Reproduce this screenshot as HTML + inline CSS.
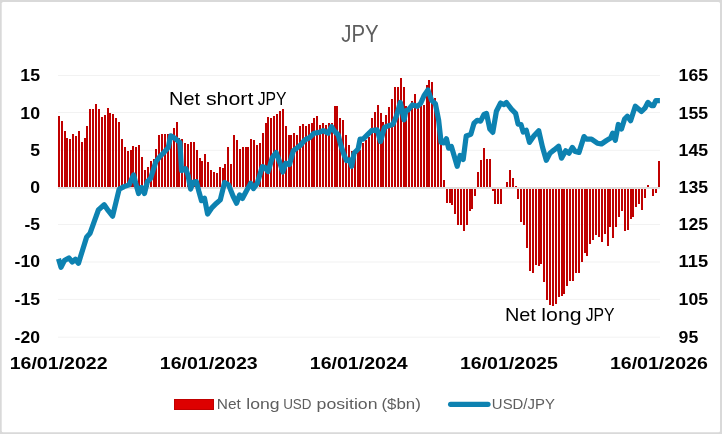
<!DOCTYPE html>
<html lang="en"><head><meta charset="utf-8"><title>JPY</title>
<style>html,body{margin:0;padding:0;background:#fff}body{width:722px;height:434px;overflow:hidden}</style></head>
<body>
<svg width="722" height="434" viewBox="0 0 722 434" style="display:block">
<rect x="0" y="0" width="722" height="434" fill="#d9d9d9"/>
<rect x="1.7" y="2" width="718.3" height="430.3" rx="1.5" fill="#fff"/>
<rect x="58" y="75.00" width="602" height="1" fill="#f2f2f2"/>
<rect x="58" y="112.00" width="602" height="1" fill="#f2f2f2"/>
<rect x="58" y="149.80" width="602" height="1" fill="#f2f2f2"/>
<rect x="58" y="224.00" width="602" height="1" fill="#f2f2f2"/>
<rect x="58" y="261.50" width="602" height="1" fill="#f2f2f2"/>
<rect x="58" y="298.90" width="602" height="1" fill="#f2f2f2"/>
<rect x="58" y="336.70" width="602" height="1" fill="#f2f2f2"/>
<g fill="#c00000" shape-rendering="crispEdges">
<rect x="58" y="116" width="2" height="71"/>
<rect x="61" y="121" width="2" height="66"/>
<rect x="64" y="131" width="2" height="56"/>
<rect x="66" y="138" width="2" height="49"/>
<rect x="69" y="139" width="2" height="48"/>
<rect x="72" y="134" width="2" height="53"/>
<rect x="75" y="136" width="2" height="51"/>
<rect x="78" y="131" width="2" height="56"/>
<rect x="81" y="142" width="2" height="45"/>
<rect x="84" y="138" width="2" height="49"/>
<rect x="86" y="126" width="2" height="61"/>
<rect x="89" y="109" width="2" height="78"/>
<rect x="92" y="109" width="2" height="78"/>
<rect x="95" y="104" width="2" height="83"/>
<rect x="98" y="109" width="2" height="78"/>
<rect x="101" y="117" width="2" height="70"/>
<rect x="104" y="115" width="2" height="72"/>
<rect x="107" y="108" width="2" height="79"/>
<rect x="109" y="113" width="2" height="74"/>
<rect x="112" y="114" width="2" height="73"/>
<rect x="115" y="118" width="2" height="69"/>
<rect x="118" y="122" width="2" height="65"/>
<rect x="121" y="139" width="2" height="48"/>
<rect x="124" y="147" width="2" height="40"/>
<rect x="127" y="151" width="2" height="36"/>
<rect x="130" y="150" width="2" height="37"/>
<rect x="132" y="146" width="2" height="41"/>
<rect x="135" y="147" width="2" height="40"/>
<rect x="138" y="145" width="2" height="42"/>
<rect x="141" y="157" width="2" height="30"/>
<rect x="144" y="170" width="2" height="17"/>
<rect x="147" y="167" width="2" height="20"/>
<rect x="150" y="161" width="2" height="26"/>
<rect x="153" y="159" width="2" height="28"/>
<rect x="155" y="149" width="2" height="38"/>
<rect x="158" y="135" width="2" height="52"/>
<rect x="161" y="134" width="2" height="53"/>
<rect x="164" y="134" width="2" height="53"/>
<rect x="167" y="134" width="2" height="53"/>
<rect x="170" y="135" width="2" height="52"/>
<rect x="173" y="128" width="2" height="59"/>
<rect x="176" y="122" width="2" height="65"/>
<rect x="178" y="138" width="2" height="49"/>
<rect x="181" y="139" width="2" height="48"/>
<rect x="184" y="143" width="2" height="44"/>
<rect x="187" y="144" width="2" height="43"/>
<rect x="190" y="142" width="2" height="45"/>
<rect x="193" y="142" width="2" height="45"/>
<rect x="196" y="150" width="2" height="37"/>
<rect x="199" y="158" width="2" height="29"/>
<rect x="201" y="161" width="2" height="26"/>
<rect x="204" y="154" width="2" height="33"/>
<rect x="207" y="162" width="2" height="25"/>
<rect x="210" y="170" width="2" height="17"/>
<rect x="213" y="172" width="2" height="15"/>
<rect x="216" y="173" width="2" height="14"/>
<rect x="219" y="167" width="2" height="20"/>
<rect x="222" y="168" width="2" height="19"/>
<rect x="224" y="164" width="2" height="23"/>
<rect x="227" y="147" width="2" height="40"/>
<rect x="230" y="164" width="2" height="23"/>
<rect x="233" y="135" width="2" height="52"/>
<rect x="236" y="140" width="2" height="47"/>
<rect x="239" y="149" width="2" height="38"/>
<rect x="242" y="147" width="2" height="40"/>
<rect x="245" y="147" width="2" height="40"/>
<rect x="247" y="147" width="2" height="40"/>
<rect x="250" y="139" width="2" height="48"/>
<rect x="253" y="140" width="2" height="47"/>
<rect x="256" y="145" width="2" height="42"/>
<rect x="259" y="143" width="2" height="44"/>
<rect x="262" y="133" width="2" height="54"/>
<rect x="265" y="123" width="2" height="64"/>
<rect x="267" y="117" width="2" height="70"/>
<rect x="270" y="118" width="2" height="69"/>
<rect x="273" y="116" width="2" height="71"/>
<rect x="276" y="114" width="2" height="73"/>
<rect x="279" y="111" width="2" height="76"/>
<rect x="282" y="109" width="2" height="78"/>
<rect x="285" y="126" width="2" height="61"/>
<rect x="288" y="135" width="2" height="52"/>
<rect x="290" y="135" width="2" height="52"/>
<rect x="293" y="133" width="2" height="54"/>
<rect x="296" y="135" width="2" height="52"/>
<rect x="299" y="126" width="2" height="61"/>
<rect x="302" y="124" width="2" height="63"/>
<rect x="305" y="126" width="2" height="61"/>
<rect x="308" y="124" width="2" height="63"/>
<rect x="311" y="123" width="2" height="64"/>
<rect x="313" y="118" width="2" height="69"/>
<rect x="316" y="116" width="2" height="71"/>
<rect x="319" y="125" width="2" height="62"/>
<rect x="322" y="123" width="2" height="64"/>
<rect x="325" y="125" width="2" height="62"/>
<rect x="328" y="123" width="2" height="64"/>
<rect x="331" y="123" width="2" height="64"/>
<rect x="334" y="106" width="2" height="81"/>
<rect x="336" y="106" width="2" height="81"/>
<rect x="339" y="118" width="2" height="69"/>
<rect x="342" y="120" width="2" height="67"/>
<rect x="345" y="135" width="2" height="52"/>
<rect x="348" y="145" width="2" height="42"/>
<rect x="351" y="151" width="2" height="36"/>
<rect x="354" y="151" width="2" height="36"/>
<rect x="357" y="152" width="2" height="35"/>
<rect x="359" y="150" width="2" height="37"/>
<rect x="362" y="143" width="2" height="44"/>
<rect x="365" y="140" width="2" height="47"/>
<rect x="368" y="137" width="2" height="50"/>
<rect x="371" y="118" width="2" height="69"/>
<rect x="374" y="112" width="2" height="75"/>
<rect x="377" y="105" width="2" height="82"/>
<rect x="380" y="113" width="2" height="74"/>
<rect x="382" y="122" width="2" height="65"/>
<rect x="385" y="115" width="2" height="72"/>
<rect x="388" y="107" width="2" height="80"/>
<rect x="391" y="99" width="2" height="88"/>
<rect x="394" y="87" width="2" height="100"/>
<rect x="397" y="87" width="2" height="100"/>
<rect x="400" y="78" width="2" height="109"/>
<rect x="403" y="87" width="2" height="100"/>
<rect x="405" y="106" width="2" height="81"/>
<rect x="408" y="108" width="2" height="79"/>
<rect x="411" y="101" width="2" height="86"/>
<rect x="414" y="94" width="2" height="93"/>
<rect x="417" y="104" width="2" height="83"/>
<rect x="420" y="106" width="2" height="81"/>
<rect x="423" y="105" width="2" height="82"/>
<rect x="426" y="85" width="2" height="102"/>
<rect x="428" y="80" width="2" height="107"/>
<rect x="431" y="82" width="2" height="105"/>
<rect x="434" y="98" width="2" height="89"/>
<rect x="437" y="112" width="2" height="75"/>
<rect x="440" y="138" width="2" height="49"/>
<rect x="443" y="180" width="2" height="7"/>
<rect x="477" y="172" width="2" height="15"/>
<rect x="480" y="160" width="2" height="27"/>
<rect x="483" y="148" width="2" height="39"/>
<rect x="486" y="159" width="2" height="28"/>
<rect x="489" y="159" width="2" height="28"/>
<rect x="506" y="182" width="2" height="5"/>
<rect x="509" y="170" width="2" height="17"/>
<rect x="512" y="178" width="2" height="9"/>
<rect x="515" y="186" width="2" height="1"/>
<rect x="647" y="185" width="2" height="2"/>
<rect x="658" y="161" width="2" height="26"/>
<rect x="446" y="189" width="2" height="14"/>
<rect x="449" y="189" width="2" height="14"/>
<rect x="451" y="189" width="2" height="16"/>
<rect x="454" y="189" width="2" height="25"/>
<rect x="457" y="189" width="2" height="36"/>
<rect x="460" y="189" width="2" height="36"/>
<rect x="463" y="189" width="2" height="42"/>
<rect x="466" y="189" width="2" height="36"/>
<rect x="469" y="189" width="2" height="22"/>
<rect x="471" y="189" width="2" height="20"/>
<rect x="474" y="189" width="2" height="7"/>
<rect x="492" y="189" width="2" height="2"/>
<rect x="494" y="189" width="2" height="15"/>
<rect x="497" y="189" width="2" height="15"/>
<rect x="500" y="189" width="2" height="15"/>
<rect x="517" y="189" width="2" height="10"/>
<rect x="520" y="189" width="2" height="33"/>
<rect x="523" y="189" width="2" height="36"/>
<rect x="526" y="189" width="2" height="59"/>
<rect x="529" y="189" width="2" height="82"/>
<rect x="532" y="189" width="2" height="84"/>
<rect x="535" y="189" width="2" height="76"/>
<rect x="538" y="189" width="2" height="77"/>
<rect x="540" y="189" width="2" height="75"/>
<rect x="543" y="189" width="2" height="93"/>
<rect x="546" y="189" width="2" height="111"/>
<rect x="549" y="189" width="2" height="116"/>
<rect x="552" y="189" width="2" height="117"/>
<rect x="555" y="189" width="2" height="115"/>
<rect x="558" y="189" width="2" height="108"/>
<rect x="561" y="189" width="2" height="107"/>
<rect x="563" y="189" width="2" height="105"/>
<rect x="566" y="189" width="2" height="97"/>
<rect x="569" y="189" width="2" height="92"/>
<rect x="572" y="189" width="2" height="92"/>
<rect x="575" y="189" width="2" height="84"/>
<rect x="578" y="189" width="2" height="84"/>
<rect x="581" y="189" width="2" height="73"/>
<rect x="584" y="189" width="2" height="64"/>
<rect x="586" y="189" width="2" height="67"/>
<rect x="589" y="189" width="2" height="55"/>
<rect x="592" y="189" width="2" height="51"/>
<rect x="595" y="189" width="2" height="46"/>
<rect x="598" y="189" width="2" height="48"/>
<rect x="601" y="189" width="2" height="53"/>
<rect x="604" y="189" width="2" height="45"/>
<rect x="607" y="189" width="2" height="57"/>
<rect x="609" y="189" width="2" height="38"/>
<rect x="612" y="189" width="2" height="49"/>
<rect x="615" y="189" width="2" height="38"/>
<rect x="618" y="189" width="2" height="28"/>
<rect x="621" y="189" width="2" height="22"/>
<rect x="624" y="189" width="2" height="42"/>
<rect x="627" y="189" width="2" height="41"/>
<rect x="630" y="189" width="2" height="30"/>
<rect x="632" y="189" width="2" height="28"/>
<rect x="635" y="189" width="2" height="18"/>
<rect x="638" y="189" width="2" height="15"/>
<rect x="641" y="189" width="2" height="21"/>
<rect x="644" y="189" width="2" height="9"/>
<rect x="652" y="189" width="2" height="7"/>
<rect x="655" y="189" width="2" height="4"/>
</g>
<rect x="58" y="187.2" width="602" height="1.5" fill="#d4d4d4"/>
<polyline points="58.5,258.8 61.0,267.3 64.4,260.6 68.9,257.9 72.3,262.0 75.4,259.3 78.5,263.3 82.6,249.9 86.7,236.9 90.1,233.2 94.2,221.6 98.4,210.0 104.2,204.7 108.3,210.7 112.6,216.2 116.4,200.5 119.1,189.3 124.1,186.6 129.1,184.9 133.6,174.9 135.7,183.2 138.6,193.5 141.5,187.4 144.5,193.5 147.4,181.6 150.7,178.3 154.8,165.0 156.0,161.5 159.9,156.5 164.1,152.4 168.3,147.4 170.7,135.8 174.9,138.3 179.9,142.4 181.5,170.7 185.7,168.7 188.1,175.5 190.6,189.1 193.1,182.4 196.4,181.6 198.9,191.5 201.5,200.7 204.5,198.2 207.6,214.0 211.5,208.2 216.5,203.2 220.3,199.9 224.6,182.4 228.6,184.9 233.2,196.5 236.6,203.2 239.6,194.9 242.4,198.5 246.5,190.7 250.7,183.2 253.5,188.6 257.3,183.2 262.3,166.6 264.8,167.5 268.1,171.6 272.3,157.5 276.1,152.5 279.8,162.5 282.8,172.0 285.7,163.2 289.5,164.5 293.3,150.7 296.6,148.2 300.8,144.9 304.9,139.9 309.9,137.4 314.1,133.2 319.1,132.4 323.2,130.7 328.2,133.2 331.5,126.6 334.0,130.7 338.2,134.9 340.7,144.9 344.0,154.8 346.5,160.7 349.8,159.8 351.7,166.3 354.0,153.2 358.1,149.0 360.1,139.1 363.1,139.1 367.3,134.9 371.4,130.7 377.2,129.9 380.5,141.5 384.5,127.4 388.6,125.7 392.8,124.5 396.5,116.0 400.3,102.4 404.1,119.9 405.8,110.7 408.3,109.9 412.4,104.9 417.4,106.3 420.7,103.3 424.0,95.8 427.9,90.0 431.6,100.4 435.4,103.7 438.6,119.9 441.1,142.4 444.0,142.8 446.4,138.7 448.6,148.2 451.4,146.6 454.2,156.0 457.2,166.3 460.1,155.4 463.2,159.5 466.2,136.0 470.8,134.4 474.0,123.2 477.3,120.3 480.6,121.2 484.0,114.4 486.5,113.4 489.8,129.0 492.8,132.4 496.4,111.2 500.6,103.0 504.0,104.6 506.4,102.5 511.4,109.1 515.6,113.3 518.1,124.1 521.0,124.5 523.2,132.0 526.3,130.3 529.5,142.4 534.0,135.7 538.7,130.7 542.6,147.5 546.3,160.3 549.9,153.2 554.1,149.9 558.6,146.2 561.5,158.2 565.7,150.7 569.0,153.2 572.4,147.4 575.2,151.5 579.0,152.4 584.0,136.6 586.5,139.1 591.5,139.1 597.3,143.2 601.4,144.0 606.5,140.5 610.6,138.0 612.6,133.2 615.3,140.2 618.3,124.5 621.5,129.0 624.6,119.0 627.3,116.2 630.6,120.7 635.3,106.2 641.5,111.5 644.9,108.2 647.9,102.4 651.5,105.7 653.5,105.7 655.7,100.7 659.9,100.7" fill="none" stroke="#0d82b1" stroke-width="5.2" stroke-linejoin="round" stroke-linecap="butt"/>
<text x="20.3" y="80.9" font-family="Liberation Sans, sans-serif" font-size="17.2" font-weight="bold" textLength="19.7" lengthAdjust="spacingAndGlyphs" fill="#000">15</text>
<text x="20.3" y="118.9" font-family="Liberation Sans, sans-serif" font-size="17.2" font-weight="bold" textLength="19.7" lengthAdjust="spacingAndGlyphs" fill="#000">10</text>
<text x="30.15" y="156.0" font-family="Liberation Sans, sans-serif" font-size="17.2" font-weight="bold" textLength="9.8" lengthAdjust="spacingAndGlyphs" fill="#000">5</text>
<text x="30.15" y="193.1" font-family="Liberation Sans, sans-serif" font-size="17.2" font-weight="bold" textLength="9.8" lengthAdjust="spacingAndGlyphs" fill="#000">0</text>
<text x="24.45" y="230.3" font-family="Liberation Sans, sans-serif" font-size="17.2" font-weight="bold" textLength="15.6" lengthAdjust="spacingAndGlyphs" fill="#000">-5</text>
<text x="14.600000000000001" y="267.4" font-family="Liberation Sans, sans-serif" font-size="17.2" font-weight="bold" textLength="25.4" lengthAdjust="spacingAndGlyphs" fill="#000">-10</text>
<text x="14.600000000000001" y="304.8" font-family="Liberation Sans, sans-serif" font-size="17.2" font-weight="bold" textLength="25.4" lengthAdjust="spacingAndGlyphs" fill="#000">-15</text>
<text x="14.600000000000001" y="342.6" font-family="Liberation Sans, sans-serif" font-size="17.2" font-weight="bold" textLength="25.4" lengthAdjust="spacingAndGlyphs" fill="#000">-20</text>
<text x="678.6" y="80.9" font-family="Liberation Sans, sans-serif" font-size="17.2" font-weight="bold" textLength="29.5" lengthAdjust="spacingAndGlyphs" fill="#000">165</text>
<text x="678.6" y="118.9" font-family="Liberation Sans, sans-serif" font-size="17.2" font-weight="bold" textLength="29.5" lengthAdjust="spacingAndGlyphs" fill="#000">155</text>
<text x="678.6" y="156.0" font-family="Liberation Sans, sans-serif" font-size="17.2" font-weight="bold" textLength="29.5" lengthAdjust="spacingAndGlyphs" fill="#000">145</text>
<text x="678.6" y="193.1" font-family="Liberation Sans, sans-serif" font-size="17.2" font-weight="bold" textLength="29.5" lengthAdjust="spacingAndGlyphs" fill="#000">135</text>
<text x="678.6" y="230.3" font-family="Liberation Sans, sans-serif" font-size="17.2" font-weight="bold" textLength="29.5" lengthAdjust="spacingAndGlyphs" fill="#000">125</text>
<text x="678.6" y="267.4" font-family="Liberation Sans, sans-serif" font-size="17.2" font-weight="bold" textLength="29.5" lengthAdjust="spacingAndGlyphs" fill="#000">115</text>
<text x="678.6" y="304.8" font-family="Liberation Sans, sans-serif" font-size="17.2" font-weight="bold" textLength="29.5" lengthAdjust="spacingAndGlyphs" fill="#000">105</text>
<text x="678.6" y="342.6" font-family="Liberation Sans, sans-serif" font-size="17.2" font-weight="bold" textLength="19.7" lengthAdjust="spacingAndGlyphs" fill="#000">95</text>
<text x="9.7" y="368.7" font-family="Liberation Sans, sans-serif" font-size="17.2" font-weight="bold" textLength="97.9" lengthAdjust="spacingAndGlyphs" fill="#000">16/01/2022</text>
<text x="159.8" y="368.7" font-family="Liberation Sans, sans-serif" font-size="17.2" font-weight="bold" textLength="97.9" lengthAdjust="spacingAndGlyphs" fill="#000">16/01/2023</text>
<text x="309.8" y="368.7" font-family="Liberation Sans, sans-serif" font-size="17.2" font-weight="bold" textLength="97.9" lengthAdjust="spacingAndGlyphs" fill="#000">16/01/2024</text>
<text x="459.9" y="368.7" font-family="Liberation Sans, sans-serif" font-size="17.2" font-weight="bold" textLength="97.9" lengthAdjust="spacingAndGlyphs" fill="#000">16/01/2025</text>
<text x="609.9" y="368.7" font-family="Liberation Sans, sans-serif" font-size="17.2" font-weight="bold" textLength="97.9" lengthAdjust="spacingAndGlyphs" fill="#000">16/01/2026</text>
<text x="169.10" y="104.8" font-family="Liberation Sans, sans-serif" font-size="17.8" textLength="30.97" lengthAdjust="spacingAndGlyphs" fill="#000">Net</text>
<text x="205.98" y="104.8" font-family="Liberation Sans, sans-serif" font-size="17.8" textLength="47.37" lengthAdjust="spacingAndGlyphs" fill="#000">short</text>
<text x="257.64" y="104.8" font-family="Liberation Sans, sans-serif" font-size="17.8" textLength="28.87" lengthAdjust="spacingAndGlyphs" fill="#000">JPY</text>
<text x="504.90" y="321.2" font-family="Liberation Sans, sans-serif" font-size="17.8" textLength="30.97" lengthAdjust="spacingAndGlyphs" fill="#000">Net</text>
<text x="541.36" y="321.2" font-family="Liberation Sans, sans-serif" font-size="17.8" textLength="40.20" lengthAdjust="spacingAndGlyphs" fill="#000">long</text>
<text x="585.74" y="321.2" font-family="Liberation Sans, sans-serif" font-size="17.8" textLength="28.87" lengthAdjust="spacingAndGlyphs" fill="#000">JPY</text>
<text x="216.77" y="408.5" font-family="Liberation Sans, sans-serif" font-size="14.2" textLength="24.00" lengthAdjust="spacingAndGlyphs" fill="#5e5e5e">Net</text>
<text x="246.22" y="408.5" font-family="Liberation Sans, sans-serif" font-size="14.2" textLength="33.27" lengthAdjust="spacingAndGlyphs" fill="#5e5e5e">long</text>
<text x="283.13" y="408.5" font-family="Liberation Sans, sans-serif" font-size="14.2" textLength="28.46" lengthAdjust="spacingAndGlyphs" fill="#5e5e5e">USD</text>
<text x="316.56" y="408.5" font-family="Liberation Sans, sans-serif" font-size="14.2" textLength="60.98" lengthAdjust="spacingAndGlyphs" fill="#5e5e5e">position</text>
<text x="381.44" y="408.5" font-family="Liberation Sans, sans-serif" font-size="14.2" textLength="39.42" lengthAdjust="spacingAndGlyphs" fill="#5e5e5e">($bn)</text>
<text x="491.87" y="408.5" font-family="Liberation Sans, sans-serif" font-size="14.2" textLength="63.04" lengthAdjust="spacingAndGlyphs" fill="#5e5e5e">USD/JPY</text>
<text x="341.24" y="42.4" font-family="Liberation Sans, sans-serif" font-size="23.8" textLength="37.37" lengthAdjust="spacingAndGlyphs" fill="#5e5e5e">JPY</text>
<rect x="174.5" y="399.5" width="39" height="10" fill="#dd0000" stroke="#c00000" stroke-width="1"/>
<line x1="450.6" y1="404.3" x2="488.0" y2="404.3" stroke="#0d82b1" stroke-width="5.2" stroke-linecap="round"/>
</svg>
</body></html>
